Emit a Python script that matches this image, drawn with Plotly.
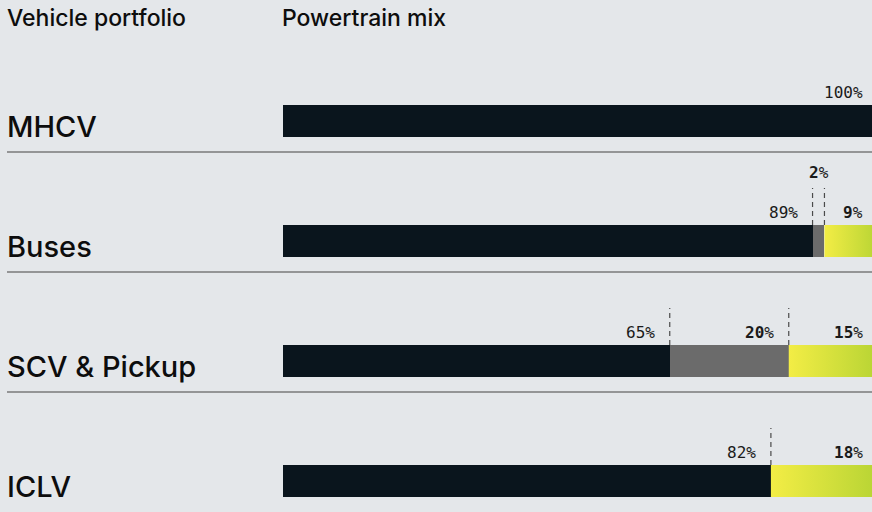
import plotly.graph_objects as go

# ---- data ----
categories = ["MHCV", "Buses", "SCV & Pickup", "ICLV"]
segment_names = ["ICE", "Alternative fuel", "Electric"]
ice = [100, 89, 65, 82]
alt = [0, 2, 20, 0]
ev = [0, 9, 15, 18]
header_left = "Vehicle portfolio"
header_right = "Powertrain mix"

# ---- style ----
BG = "#e4e7ea"
C_ICE = "#0a151d"
C_ALT = "#6b6b6b"
EV_SCALE = [[0, "#f3ed45"], [1, "#b7d434"]]
W, H = 884, 512
PX_PER_ROW = 120.0
BAR_PX = 32.0
BW = BAR_PX / PX_PER_ROW
LEFT_PX = 283.0
PX_PER_PCT = 5.95
TOP_CENTER_PX = 121.0

label_font = dict(family="DejaVu Sans Mono", size=16, color="#1a1a1a")
cat_font = dict(family="Inter", size=29, color="#0d0d0d", weight=500)
head_font = dict(family="Inter", size=23, color="#0d0d0d", weight=500)

fig = go.Figure()
series = [ice, alt, ev]
ypos = list(range(len(categories)))

# solid segments as bars
for name, vals, col, bases in [
    (segment_names[0], ice, C_ICE, [0] * len(ice)),
    (segment_names[1], alt, C_ALT, ice),
]:
    fig.add_trace(go.Bar(
        y=ypos, x=vals, base=bases, orientation="h", width=BW,
        marker=dict(color=col, line=dict(width=0)), name=name,
        showlegend=False, hoverinfo="skip",
    ))

# gradient segments
for i, v in enumerate(ev):
    if v <= 0:
        continue
    b = ice[i] + alt[i]
    e = b + v
    fig.add_trace(go.Scatter(
        x=[b, e, e, b, b],
        y=[i - BW / 2, i - BW / 2, i + BW / 2, i + BW / 2, i - BW / 2],
        mode="lines", line=dict(width=0), fill="toself",
        fillgradient=dict(type="horizontal", colorscale=EV_SCALE),
        name=segment_names[2], showlegend=False, hoverinfo="skip",
    ))

annotations = []
shapes = []

# value labels and dashed dividers
for i in range(len(categories)):
    start = 0
    for k, vals in enumerate(series):
        v = vals[i]
        if v <= 0:
            continue
        end = start + v
        bold = k > 0
        txt = (f"<b>{v}</b>%" if bold else f"{v}%")
        if v * PX_PER_PCT < 25:
            annotations.append(dict(
                x=(start + end) / 2, y=i - BW / 2, xref="x", yref="y",
                text=txt, showarrow=False, xanchor="center", yanchor="middle",
                yshift=53, font=label_font))
        else:
            annotations.append(dict(
                x=end, y=i - BW / 2, xref="x", yref="y",
                text=txt, showarrow=False, xanchor="right", yanchor="middle",
                xshift=-13, yshift=13, font=label_font))
        if start > 0:
            shapes.append(dict(
                type="line", xref="x", yref="y", x0=start, x1=start,
                y0=i - BW / 2, y1=i - BW / 2 - 37 / PX_PER_ROW,
                line=dict(color="#4a4a4a", width=1.2, dash="5px,4px")))
        start = end

# category labels + separators
for i, c in enumerate(categories):
    annotations.append(dict(
        x=5 / W, y=i + BW / 2, xref="paper", yref="y", text=c,
        showarrow=False, xanchor="left", yanchor="bottom", yshift=-9,
        font=cat_font))
    if i < len(categories) - 1:
        shapes.append(dict(
            type="line", xref="paper", yref="y", x0=7 / W, x1=1,
            y0=i + BW / 2 + 15 / PX_PER_ROW, y1=i + BW / 2 + 15 / PX_PER_ROW,
            line=dict(color="#7a7a7a", width=1.5)))

# headers
annotations.append(dict(x=5 / W, y=1 - 18 / H, xref="paper", yref="paper",
                        text=header_left, showarrow=False, xanchor="left",
                        yanchor="middle", font=head_font))
annotations.append(dict(x=0, y=1 - 18 / H, xref="x", yref="paper",
                        text=header_right, showarrow=False, xanchor="left",
                        xshift=-3, yanchor="middle", font=head_font))

x0 = -LEFT_PX / PX_PER_PCT
x1 = (W - LEFT_PX) / PX_PER_PCT
ytop = -TOP_CENTER_PX / PX_PER_ROW
ybot = (H - TOP_CENTER_PX) / PX_PER_ROW

fig.update_layout(
    width=W, height=H, autosize=False,
    margin=dict(l=0, r=0, t=0, b=0),
    paper_bgcolor=BG, plot_bgcolor=BG,
    barmode="overlay", bargap=0,
    xaxis=dict(range=[x0, x1], visible=False, fixedrange=True),
    yaxis=dict(range=[ybot, ytop], visible=False, fixedrange=True),
    annotations=annotations, shapes=shapes,
    showlegend=False,
)

fig.write_html(
    "out.html",
    config={"displayModeBar": False, "staticPlot": True},
    post_script=("document.body.style.margin='0';"
                 "document.body.style.overflow='hidden';"
                 f"document.body.style.background='{BG}';"),
)
